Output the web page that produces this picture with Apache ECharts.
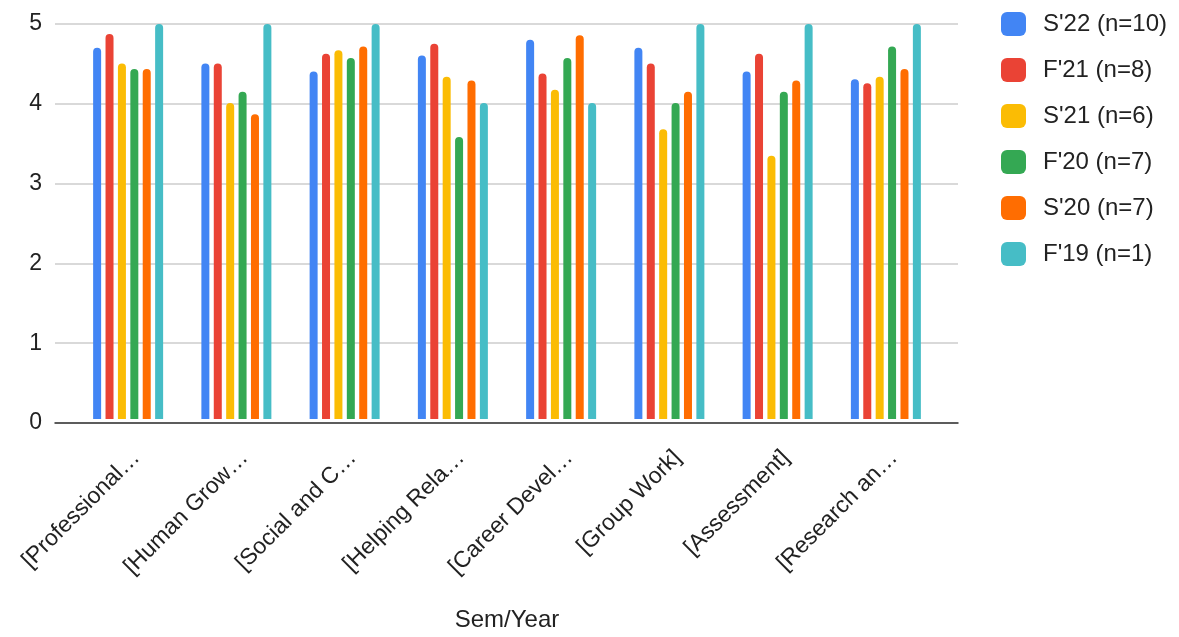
<!DOCTYPE html>
<html>
<head>
<meta charset="utf-8">
<script src="https://cdn.jsdelivr.net/npm/echarts@6/dist/echarts.min.js"></script>
<style>
  html, body { margin: 0; padding: 0; background: #fff; }
  #chart { width: 1179px; height: 637px; }
</style>
</head>
<body>
<div id="chart"></div>
<script>
// Course areas (labels shown truncated, as in the survey export)
const categories = [
  '[Professional…', '[Human Grow…', '[Social and C…', '[Helping Rela…',
  '[Career Devel…', '[Group Work]', '[Assessment]', '[Research an…'
];

// Mean ratings per cohort
const s22 = [4.7, 4.5, 4.4, 4.6, 4.8, 4.7, 4.4, 4.3];
const f21 = [4.875, 4.5, 4.625, 4.75, 4.375, 4.5, 4.625, 4.25];
const s21 = [4.5, 4.0, 4.667, 4.333, 4.167, 3.667, 3.333, 4.333];
const f20 = [4.429, 4.143, 4.571, 3.571, 4.571, 4.0, 4.143, 4.714];
const s20 = [4.429, 3.857, 4.714, 4.286, 4.857, 4.143, 4.286, 4.429];
const f19 = [5, 5, 5, 4, 4, 5, 5, 5];

const seriesNames = ["S'22 (n=10)", "F'21 (n=8)", "S'21 (n=6)", "F'20 (n=7)", "S'20 (n=7)", "F'19 (n=1)"];
const seriesData = [s22, f21, s21, f20, s20, f19];
const colors = ['#4285f4', '#ea4335', '#fbbc04', '#34a853', '#ff6d01', '#46bdc6'];

const yTicks = [0, 1, 2, 3, 4, 5];

const font = 'Liberation Sans, Arial, sans-serif';
const chart = echarts.init(document.getElementById('chart'));

chart.setOption({
  animation: false,
  color: colors,
  textStyle: { fontFamily: font },
  legend: {
    orient: 'vertical',
    left: 1001,
    top: 12,
    padding: 0,
    itemWidth: 25,
    itemHeight: 24,
    itemGap: 22,
    icon: 'roundRect',
    textStyle: { fontSize: 24, color: '#222', fontFamily: font, padding: [0, 0, 0, 12] },
    data: seriesNames
  },
  grid: [
    // full-width frame carrying gridlines and the baseline
    { left: 55, right: 221, top: 24, bottom: 214 },
    // inset area holding the bar groups
    { left: 74, right: 239, top: 24, bottom: 214 }
  ],
  xAxis: [
    {
      gridIndex: 0, type: 'value', min: 0, max: 1,
      axisLine: { show: true, onZero: false, lineStyle: { color: '#333', width: 1.5 } },
      axisTick: { show: false }, axisLabel: { show: false }, splitLine: { show: false }
    },
    {
      gridIndex: 1, type: 'category', data: categories,
      axisLine: { show: false }, axisTick: { show: false },
      axisLabel: {
        rotate: 45, fontSize: 23, color: '#222', margin: 27, interval: 0,
        verticalAlign: 'top', fontFamily: font
      },
      name: 'Sem/Year', nameLocation: 'middle', nameGap: 189,
      nameTextStyle: { fontSize: 24, color: '#222', fontFamily: font }
    }
  ],
  yAxis: [
    {
      gridIndex: 0, type: 'value', min: yTicks[0], max: yTicks[yTicks.length - 1], interval: 1,
      axisLine: { show: false }, axisTick: { show: false },
      axisLabel: { fontSize: 23, color: '#222', margin: 13, fontFamily: font },
      splitLine: { lineStyle: { color: '#cccccc', width: 1.5 } }
    },
    {
      gridIndex: 1, type: 'value', min: 0, max: 5, interval: 1,
      show: false, splitLine: { show: false }
    }
  ],
  series: seriesNames.map((name, i) => ({
    name: name,
    type: 'bar',
    xAxisIndex: 1,
    yAxisIndex: 1,
    data: seriesData[i],
    barWidth: 8,
    barGap: '55%',
    itemStyle: { color: colors[i], borderRadius: [4, 4, 0, 0] }
  }))
});
</script>
</body>
</html>
